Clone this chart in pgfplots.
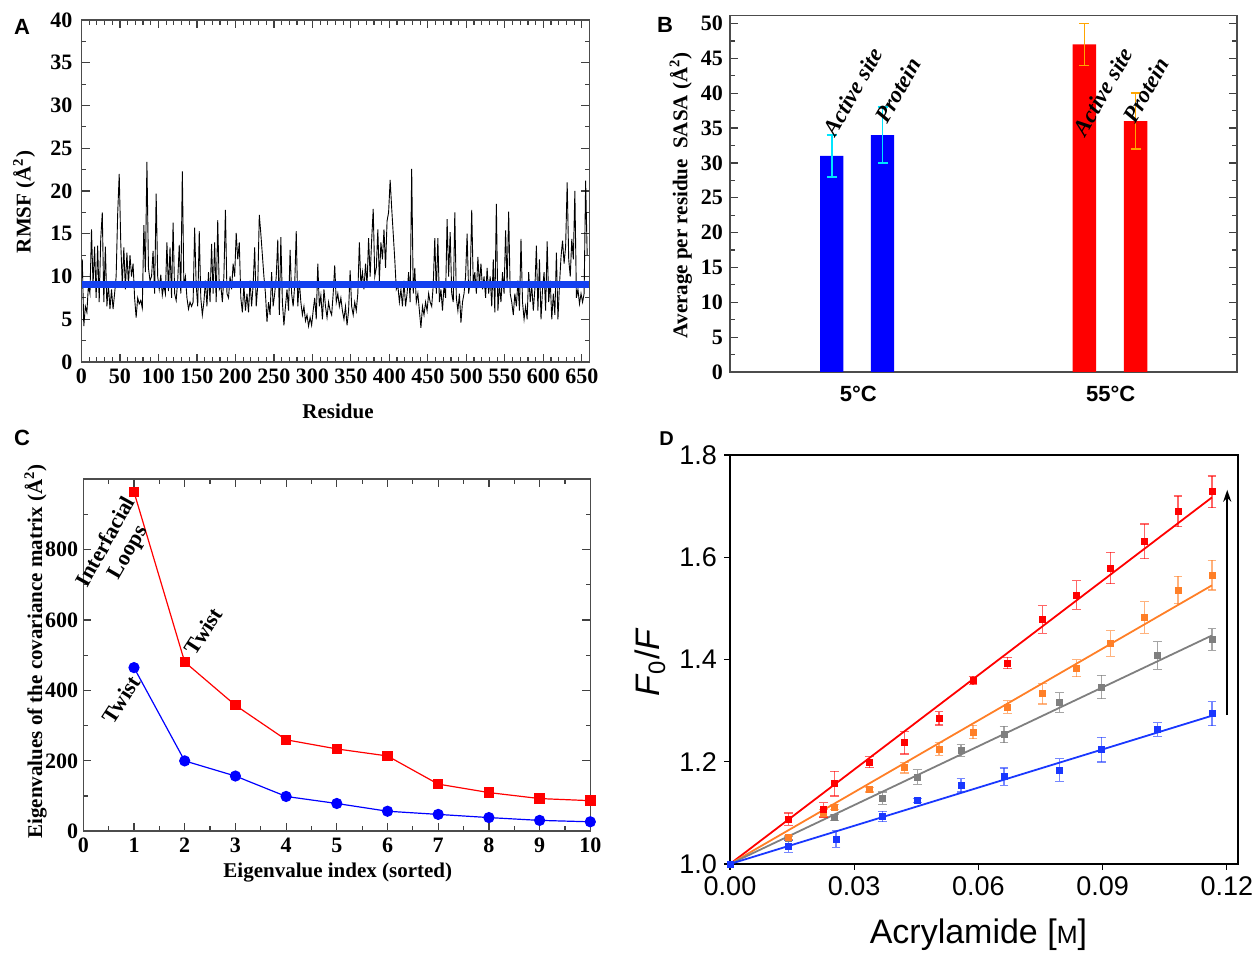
\documentclass[border=0pt]{standalone}
\usepackage{pgfplots}
\pgfplotsset{compat=1.18}
\usepackage{pgfplotstable}
\usetikzlibrary{arrows.meta}
\usepackage{fontspec}
\setmainfont{Liberation Serif}
\newfontfamily\arial{Liberation Sans}
\definecolor{dred}{RGB}{255,0,0}
\definecolor{dorange}{RGB}{255,127,39}
\definecolor{dgray}{RGB}{127,127,127}
\definecolor{dblue}{RGB}{25,55,255}
\definecolor{meanblue}{RGB}{20,65,240}
\definecolor{ecyan}{RGB}{0,230,255}
\definecolor{eorange}{RGB}{255,165,0}

\pgfplotstableread{
x y e
0.0141 1.0876 0.012
0.0225 1.106 0.014
0.0253 1.157 0.024
0.0336 1.199 0.011
0.0422 1.237 0.022
0.0505 1.285 0.013
0.0587 1.359 0.0085
0.0670 1.393 0.011
0.0754 1.478 0.027
0.0837 1.526 0.028
0.0919 1.579 0.031
0.1001 1.631 0.034
0.1082 1.690 0.030
0.1164 1.728 0.031
}\redtab
\pgfplotstableread{
x y e
0.0141 1.052 0.004
0.0225 1.099 0.008
0.0253 1.111 0.005
0.0336 1.145 0.004
0.0422 1.188 0.010
0.0505 1.225 0.012
0.0587 1.258 0.013
0.0670 1.307 0.0125
0.0754 1.333 0.020
0.0837 1.383 0.017
0.0919 1.431 0.025
0.1001 1.482 0.031
0.1082 1.536 0.027
0.1164 1.565 0.029
}\orangetab
\pgfplotstableread{
x y e
0.0141 1.050 0.004
0.0253 1.091 0.006
0.0368 1.129 0.012
0.0452 1.170 0.0144
0.0558 1.222 0.011
0.0662 1.253 0.016
0.0796 1.316 0.019
0.0897 1.346 0.023
0.1033 1.408 0.027
0.1164 1.439 0.021
}\graytab
\pgfplotstableread{
x y e
0.0000 1.000 0
0.0141 1.035 0.012
0.0256 1.049 0.016
0.0368 1.093 0.010
0.0452 1.124 0.004
0.0558 1.154 0.013
0.0662 1.171 0.0167
0.0796 1.184 0.022
0.0897 1.2235 0.024
0.1033 1.263 0.013
0.1164 1.294 0.0235
}\bluetab

\pgfplotsset{
  xg/.style={scale only axis, anchor=south west,
    axis line style={black!70, line width=0.8pt},
    tick style={black!75, line width=0.6pt},
    tick align=inside, major tick length=4pt, minor tick length=2.4pt,
    /pgf/number format/assume math mode=true,
    ticklabel style={font=\fontsize{11}{12}\selectfont\bfseries},
    label style={font=\fontsize{10.5}{12}\selectfont\bfseries},
  },
}

\begin{document}
\begin{tikzpicture}
\useasboundingbox (0pt,0pt) rectangle (626.5pt,476.5pt);

% ---------------- Panel A ----------------
\begin{axis}[xg, at={(40.75pt,295.5pt)}, width=254pt, height=171pt,
  xmin=0, xmax=660, ymin=0, ymax=40,
  xtick={0,50,...,650}, ytick={0,5,...,40},
  minor x tick num=4, minor y tick num=1,
  xlabel={Residue}, ylabel={RMSF (Å\textsuperscript{2})},
  xlabel style={at={(axis description cs:0.505,-0.143)}, anchor=center},
  ylabel style={at={(axis description cs:-0.113,0.468)}, anchor=center},
  yticklabel style={xshift=-1pt},
]
\addplot[black, line width=0.45pt] coordinates {
(1,12)(3,4.2)(5,6.5)(7,5.8)(9,9)(11,8)(13,15.5)(15,9)(17,13.5)(19,7.5)
(21,13.6)(23,7)(25,14.4)(27,17.5)(29,7)(31,13.5)(33,6.5)(35,9)(37,6.2)(39,8.5)
(41,6.2)(43,8)(45,10)(47,17.3)(49,22)(51,14)(53,9)(55,13.4)(57,8.5)(59,12.8)
(61,9)(63,12.5)(65,10)(67,11.5)(69,7.5)(71,5.2)(73,7.5)(75,6.8)(77,7.2)(79,6.3)
(81,16)(83,10.5)(85,23.4)(87,11)(89,9.5)(91,10)(93,13)(95,8)(97,19.7)(99,10)
(101,8.5)(103,10.2)(105,7.8)(107,9)(109,8)(111,14)(113,8.3)(115,13.4)(117,7.5)(119,16.3)
(121,8)(123,7.2)(125,9.5)(127,13.7)(129,8)(131,22.3)(133,9)(135,10)(137,7.5)(139,6.2)
(141,7)(143,6.5)(145,7)(147,15.7)(149,9)(151,6.5)(153,15.3)(155,7.5)(157,5.5)(159,7)
(161,9.5)(163,6.5)(165,10.5)(167,7)(169,13.8)(171,8)(173,14)(175,7)(177,16.6)(179,8.5)
(181,9)(183,7)(185,10)(187,17.8)(189,8)(191,7.5)(193,10)(195,8.5)(197,11.5)(199,10)
(201,15.1)(203,12)(205,14)(207,7.5)(209,5.8)(211,9)(213,6)(215,8)(217,5.8)(219,9.5)
(221,6.5)(223,9)(225,13.4)(227,6.5)(229,9)(231,17.2)(233,15)(235,12.5)(237,10)(239,8)
(241,4.7)(243,7)(245,5.5)(247,10.5)(249,6.5)(251,8)(253,10)(255,14.3)(257,5.5)(259,14.6)
(261,7)(263,4.3)(265,6.5)(267,8.5)(269,6)(271,13.1)(273,8)(275,6.5)(277,9)(279,15.3)
(281,6.5)(283,9.5)(285,7)(287,5.5)(289,6.5)(291,4.8)(293,5.5)(295,4.2)(297,5.2)(299,4.3)
(301,6)(303,7.5)(305,5)(307,11.5)(309,6.5)(311,7.8)(313,5)(315,8.5)(317,6.5)(319,5.2)
(321,7)(323,6)(325,5.5)(327,8)(329,11.3)(331,7)(333,8)(335,6.5)(337,7.5)(339,6)
(341,5)(343,6.5)(345,4.3)(347,6)(349,10.7)(351,6.5)(353,5.5)(355,7)(357,6)(359,8)
(361,14)(363,9)(365,10.5)(367,8.5)(369,11.5)(371,9)(373,14.5)(375,10)(377,14.3)(379,17.9)
(381,10)(383,11)(385,15.5)(387,9.5)(389,14)(391,12)(393,15.5)(395,11)(397,16.5)(399,17.5)
(401,21.3)(403,18)(405,15)(407,12)(409,8.5)(411,9)(413,7)(415,8.5)(417,6.5)(419,9.5)
(421,6.5)(423,8)(425,10.5)(427,7)(429,22.6)(431,8)(433,11)(435,7)(437,8)(439,6)
(441,4)(443,6.5)(445,5.5)(447,7)(449,6)(451,8)(453,7)(455,6.5)(457,9)(459,14.5)
(461,8)(463,14.5)(465,7)(467,8.5)(469,6)(471,9)(473,7.5)(475,16.7)(477,10)(479,15.2)
(481,8)(483,7)(485,17.5)(487,7.5)(489,6)(491,8)(493,4.6)(495,7)(497,8)(499,10)
(501,15)(503,8)(505,9.5)(507,17.8)(509,9)(511,10.5)(513,8)(515,12.3)(517,9)(519,11.5)
(521,8.5)(523,10)(525,7.5)(527,11)(529,8)(531,10)(533,6.5)(535,12)(537,5.8)(539,18.5)
(541,6)(543,9)(545,7)(547,10.5)(549,8)(551,15.4)(553,9)(555,17.6)(557,8)(559,7)
(561,5.5)(563,8)(565,6.5)(567,9.5)(569,6)(571,14.4)(573,7)(575,5)(577,6.5)(579,5)
(581,10.5)(583,7)(585,9)(587,6)(589,8.5)(591,13.6)(593,6)(595,12)(597,5)(599,8.5)
(601,10.5)(603,6)(605,14.1)(607,7)(609,9.5)(611,5)(613,8)(615,5.5)(617,12.8)(619,5)
(621,9)(623,12.3)(625,14.2)(627,11.5)(629,13.5)(631,21)(633,12)(635,10)(637,14.4)(639,12)
(641,20)(643,7.5)(645,8.5)(647,6.8)(649,8)(651,7)(653,8)(655,21.2)(657,12.5)
};
\addplot[meanblue, line width=3.6pt] coordinates {(0,9.1)(660,9.1)};
\end{axis}

% ---------------- Panel B ----------------
\begin{axis}[xg, at={(365pt,290.5pt)}, width=253.5pt, height=178.25pt, clip=false,
  xmin=0, xmax=1, ymin=0, ymax=51.15,
  xtick={0.253,0.751}, xticklabels={5°C,55°C},
  xticklabel style={font=\arial\bfseries\fontsize{11}{12}\selectfont, yshift=-3.5pt},
  x tick style={draw=none}, xtick pos=left,
  ytick={0,5,...,50}, minor y tick num=1, ytick pos=both,
  ylabel={Average per residue\ \ SASA (Å\textsuperscript{2})},
  ylabel style={at={(axis description cs:-0.097,0.496)}, anchor=center},
]
\addplot[ybar, bar width=0.046, fill=blue, draw=none,
  error bars/.cd, y dir=both, y explicit,
  error bar style={ecyan, line width=0.8pt},
  error mark options={rotate=90, ecyan, mark size=2.5pt, line width=0.8pt}]
  coordinates {(0.2006,31) +- (0,3) (0.3008,34) +- (0,4)};
\addplot[ybar, bar width=0.046, fill=red, draw=none,
  error bars/.cd, y dir=both, y explicit,
  error bar style={eorange, line width=0.8pt},
  error mark options={rotate=90, eorange, mark size=2.5pt, line width=0.8pt}]
  coordinates {(0.699,47) +- (0,3) (0.800,36) +- (0,4)};
\node[rotate=60, font=\fontsize{11.5}{12}\selectfont\bfseries\itshape] at (axis cs:0.2426,40.2) {Active site};
\node[rotate=60, font=\fontsize{11.5}{12}\selectfont\bfseries\itshape] at (axis cs:0.331,40.4) {Protein};
\node[rotate=60, font=\fontsize{11.5}{12}\selectfont\bfseries\itshape] at (axis cs:0.735,40.2) {Active site};
\node[rotate=60, font=\fontsize{11.5}{12}\selectfont\bfseries\itshape] at (axis cs:0.8205,40.4) {Protein};
\end{axis}

% ---------------- Panel C ----------------
\begin{axis}[xg, at={(41.65pt,60.85pt)}, width=253.5pt, height=176pt, clip=false,
  xmin=0, xmax=10, ymin=0, ymax=1000,
  xtick={0,1,...,10}, minor x tick num=1,
  ytick={0,200,...,800}, minor ytick={100,300,500,700,900},
  xlabel={Eigenvalue index (sorted)}, ylabel={Eigenvalues of the covariance matrix (Å\textsuperscript{2})},
  xlabel style={at={(axis description cs:0.502,-0.118)}, anchor=center},
  ylabel style={at={(axis description cs:-0.094,0.511)}, anchor=center},
  ticklabel style={font=\fontsize{11}{12}\selectfont\bfseries},
  yticklabel style={xshift=1pt},
]
\addplot[dred, line width=0.6pt, mark=square*, mark size=2.3pt] coordinates {
(1,964)(2,481)(3,358)(4,260)(5,234)(6,214)(7,134)(8,110)(9,93)(10,87)};
\addplot[blue, line width=0.6pt, mark=*, mark size=2.5pt] coordinates {
(1,465)(2,200)(3,157)(4,99)(5,79)(6,57)(7,48)(8,39)(9,31)(10,27)};
\node[rotate=61, font=\fontsize{11}{12}\selectfont\bfseries] at (axis cs:0.43,824) {Interfacial};
\node[rotate=60, font=\fontsize{11}{12}\selectfont\bfseries] at (axis cs:0.9,791) {Loops};
\node[rotate=57, font=\fontsize{11}{12}\selectfont\bfseries] at (axis cs:2.37,568) {Twist};
\node[rotate=57, font=\fontsize{11}{12}\selectfont\bfseries] at (axis cs:0.74,374) {Twist};
\end{axis}

% ---------------- Panel D ----------------
\begin{axis}[scale only axis, anchor=south west, at={(365pt,44.5pt)}, width=254pt, height=204.5pt,
  xmin=0, xmax=0.1227, ymin=1.0, ymax=1.8,
  xtick={0,0.03,0.06,0.09,0.12}, ytick={1.0,1.2,1.4,1.6,1.8},
  tick pos=left, tick align=outside, major tick length=3pt,
  axis line style={black, line width=0.7pt}, tick style={black, line width=0.6pt},
  /pgf/number format/assume math mode=true,
  ticklabel style={font=\arial\fontsize{13.5}{14}\selectfont},
  xticklabel style={/pgf/number format/.cd, fixed, fixed zerofill, precision=2},
  yticklabel style={/pgf/number format/.cd, fixed, fixed zerofill, precision=1},
  scaled x ticks=false,
  xlabel={Acrylamide [{\fontsize{12.5}{14}\selectfont M}]},
  ylabel={\textit{F}\textsubscript{0}/\textit{F}},
  label style={font=\arial\fontsize{17}{18}\selectfont},
  xlabel style={at={(axis description cs:0.489,-0.172)}, anchor=center},
  ylabel style={at={(axis description cs:-0.157,0.493)}, anchor=center},
]
\addplot[dred, line width=0.9pt] coordinates {(0,1)(0.1164,1.717)};
\addplot[dorange, line width=0.9pt] coordinates {(0,1)(0.1164,1.545)};
\addplot[dgray, line width=0.9pt] coordinates {(0,1)(0.1164,1.447)};
\addplot[dblue, line width=0.9pt] coordinates {(0,1)(0.1164,1.290)};
\addplot[dgray, only marks, mark=square*, mark size=1.5pt,
  error bars/.cd, y dir=both, y explicit,
  error bar style={dgray, line width=0.6pt, opacity=0.7},
  error mark options={rotate=90, dgray, mark size=2.2pt, line width=0.6pt, opacity=0.7}]
  table[x=x, y=y, y error=e] {\graytab};
\addplot[dblue, only marks, mark=square*, mark size=1.5pt,
  error bars/.cd, y dir=both, y explicit,
  error bar style={dblue, line width=0.6pt, opacity=0.6},
  error mark options={rotate=90, dblue, mark size=2.2pt, line width=0.6pt, opacity=0.6}]
  table[x=x, y=y, y error=e] {\bluetab};
\addplot[dorange, only marks, mark=square*, mark size=1.5pt,
  error bars/.cd, y dir=both, y explicit,
  error bar style={dorange, line width=0.6pt, opacity=0.6},
  error mark options={rotate=90, dorange, mark size=2.2pt, line width=0.6pt, opacity=0.6}]
  table[x=x, y=y, y error=e] {\orangetab};
\addplot[dred, only marks, mark=square*, mark size=1.5pt,
  error bars/.cd, y dir=both, y explicit,
  error bar style={dred, line width=0.6pt, opacity=0.6},
  error mark options={rotate=90, dred, mark size=2.2pt, line width=0.6pt, opacity=0.6}]
  table[x=x, y=y, y error=e] {\redtab};
\addplot[black, line width=0.8pt, -{Stealth[length=6pt,width=4pt]}] coordinates {(0.1201,1.291)(0.1201,1.732)};
\end{axis}

% panel letters
\node[font=\arial\bfseries\fontsize{11}{12}\selectfont] at (11pt,463pt) {A};
\node[font=\arial\bfseries\fontsize{11}{12}\selectfont] at (332.5pt,464pt) {B};
\node[font=\arial\bfseries\fontsize{11}{12}\selectfont] at (11pt,257.5pt) {C};
\node[font=\arial\bfseries\fontsize{10}{12}\selectfont] at (333.25pt,257pt) {D};
\end{tikzpicture}
\end{document}
